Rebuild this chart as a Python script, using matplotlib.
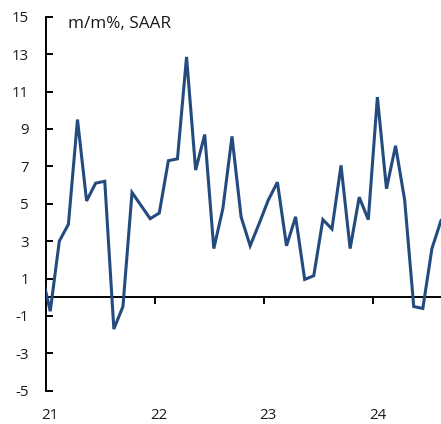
import numpy as np
import matplotlib
matplotlib.use('Agg')
import matplotlib.pyplot as plt
from matplotlib.ticker import FixedLocator

plt.rcParams['font.family'] = ['Open Sans', 'DejaVu Sans']

# monthly values, Dec 2020 .. Aug 2024 (m/m%, SAAR)
start_month = -1  # Dec 2020, Jan 2021 = 0
values = [
    1.4,
    -0.75, 3.0, 3.9, 9.5, 5.15, 6.1, 6.2, -1.7, -0.5, 5.6, 4.9, 4.2,
    4.5, 7.3, 7.4, 12.85, 6.8, 8.7, 2.6, 4.75, 8.6, 4.3, 2.75, 3.95,
    5.2, 6.15, 2.75, 4.3, 0.95, 1.15, 4.15, 3.65, 7.05, 2.6, 5.35, 4.15,
    10.7, 5.8, 8.1, 5.2, -0.5, -0.6, 2.6, 4.1,
]
year_labels = ['21', '22', '23', '24']
y_ticks = [-5, -3, -1, 1, 3, 5, 7, 9, 11, 13, 15]
y_labels = ['-5', '-3', '-1', '1', '3', '5', '7', '9', '11', '13', '15']

line_color = '#234b7e'
text_color = '#1a1a1a'


def main():
    x = np.arange(start_month, start_month + len(values))

    fig = plt.figure(figsize=(4.41, 4.24), dpi=100)
    ax = fig.add_axes([0.1036, 0.0785, 0.8964, 0.8821])

    ax.plot(x, values, color=line_color, linewidth=2.2, solid_joinstyle='miter',
            zorder=3)

    ax.set_xlim(-0.5, 43.0)
    ax.set_ylim(-5, 15)

    # spines: left axis, bottom axis moved onto zero
    for side in ('top', 'right'):
        ax.spines[side].set_visible(False)
    ax.spines['left'].set_linewidth(1.4)
    ax.spines['bottom'].set_position(('data', 0))
    ax.spines['bottom'].set_linewidth(1.4)
    ax.spines['bottom'].set_zorder(2)

    # y ticks point inward
    ax.set_yticks(y_ticks)
    ax.set_yticklabels(y_labels)
    ax.tick_params(axis='y', direction='in', length=5, width=1.4, pad=12,
                   labelsize=10.8, labelcolor=text_color)

    # x: ticks at year boundaries, labels at January, placed below the plot
    ax.xaxis.set_major_locator(FixedLocator([-0.5 + 12 * i for i in range(len(year_labels))]))
    ax.xaxis.set_minor_locator(FixedLocator([12 * i for i in range(len(year_labels))]))
    ax.set_xticklabels([], minor=False)
    ax.set_xticklabels(year_labels, minor=True)
    ax.tick_params(axis='x', which='major', direction='out', length=5, width=1.4)
    ax.tick_params(axis='x', which='minor', length=0, pad=80,
                   labelsize=10.8, labelcolor=text_color)

    ax.text(0.057, 1.003, 'm/m%, SAAR', transform=ax.transAxes, ha='left',
            va='top', fontsize=12.3, color=text_color)

    fig.savefig('out.png', dpi=100)


if __name__ == '__main__':
    main()
